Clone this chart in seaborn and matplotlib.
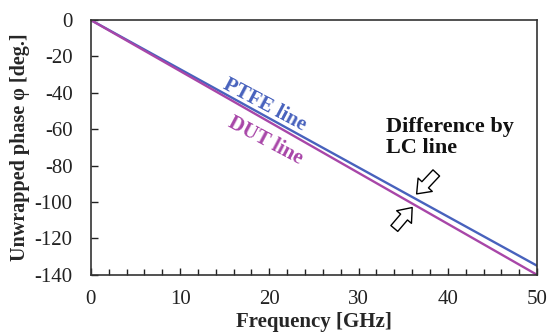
import pandas as pd
import numpy as np
import matplotlib
matplotlib.use('Agg')
import matplotlib.pyplot as plt
import seaborn as sns
from matplotlib.ticker import MultipleLocator

# data
freq_ghz = [0, 50]
phase_ptfe = [0, -135]
phase_dut = [0, -140]
line_names = ['PTFE line', 'DUT line']

df = pd.DataFrame({
    'Frequency': freq_ghz * 2,
    'Phase': phase_ptfe + phase_dut,
    'Line': [line_names[0]] * len(freq_ghz) + [line_names[1]] * len(freq_ghz),
})

sns.set_style('white')
plt.rcParams['font.family'] = ['Liberation Serif', 'DejaVu Serif']
plt.rcParams['axes.unicode_minus'] = False

fig = plt.figure(figsize=(5.47, 3.34), dpi=100)
ax = fig.add_axes([0.166, 0.177, 0.816, 0.763])

palette = {'PTFE line': '#4862bd', 'DUT line': '#a846a8'}
sns.lineplot(data=df, x='Frequency', y='Phase', hue='Line', palette=palette,
             linewidth=1.7, ax=ax, legend=False)

ax.set_xlim(0, 50)
ax.set_ylim(-140, 0)
ax.xaxis.set_major_locator(MultipleLocator(10))
ax.xaxis.set_minor_locator(MultipleLocator(2))
ax.yaxis.set_major_locator(MultipleLocator(20))
ax.tick_params(axis='both', which='both', direction='in', labelsize=15,
               colors='#222222', bottom=True, left=True, top=False, right=False)
ax.tick_params(axis='y', which='major', length=5, width=1, pad=13)
ax.tick_params(axis='x', which='major', length=5, width=1, pad=11)
ax.tick_params(axis='x', which='minor', length=4, width=1)
for s in ax.spines.values():
    s.set_color('#333333')
    s.set_linewidth(1.2)

ax.set_xlabel('Frequency [GHz]', fontsize=15, fontweight='bold', labelpad=2)
ax.set_ylabel('Unwrapped phase φ [deg.]', fontsize=14.5, fontweight='bold', labelpad=3)

ax.text(19.5, -46.5, 'PTFE line', color=palette['PTFE line'], fontsize=15,
        fontweight='bold', rotation=-28, ha='center', va='center')
ax.text(19.5, -66.5, 'DUT line', color=palette['DUT line'], fontsize=15,
        fontweight='bold', rotation=-28, ha='center', va='center')
ax.text(33.1, -53.5, 'Difference by\nLC line', fontsize=16, fontweight='bold',
        ha='left', va='top', linespacing=1.05, color='#111111')

arrow_style = dict(arrowstyle='simple,head_width=1.4,head_length=0.9,tail_width=0.65',
                   fc='white', ec='black', lw=1.0, shrinkA=0, shrinkB=0,
                   mutation_scale=10)
ax.annotate('', xy=(36.5, -95.5), xytext=(38.7, -84), arrowprops=arrow_style)
ax.annotate('', xy=(36.0, -103), xytext=(34.0, -114.5), arrowprops=arrow_style)

plt.savefig('out.png', dpi=100)
plt.close()
